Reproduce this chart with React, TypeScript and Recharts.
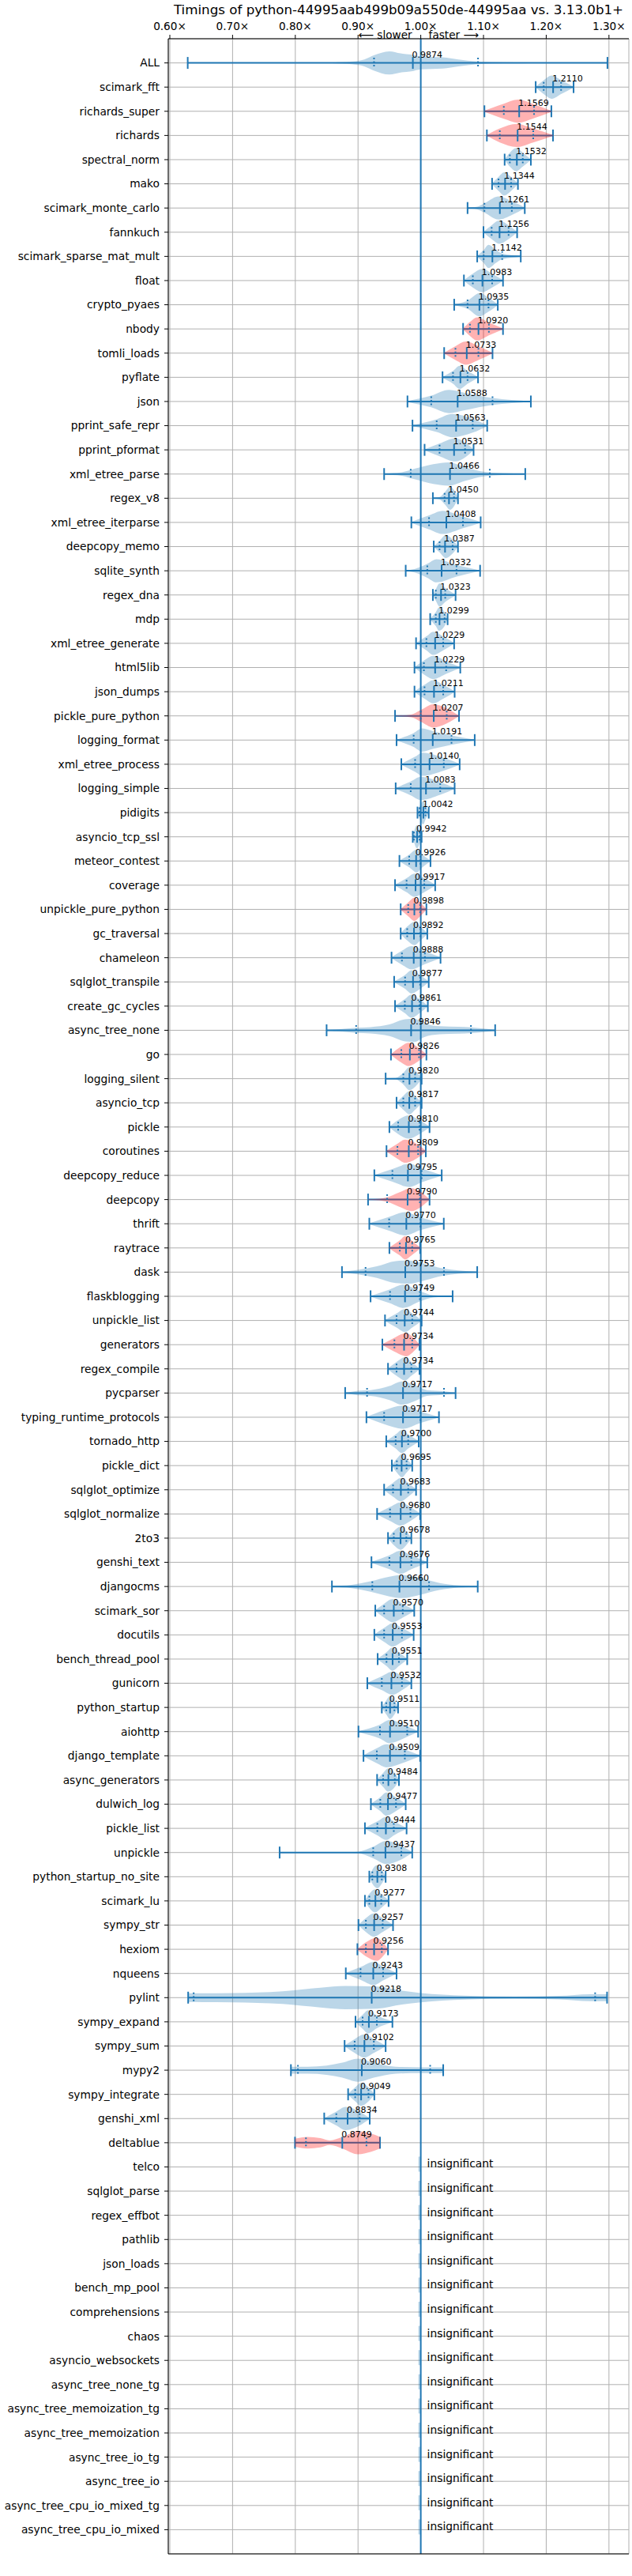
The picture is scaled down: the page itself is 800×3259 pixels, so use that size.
import React from "react";
import {
  ComposedChart,
  Scatter,
  XAxis,
  YAxis,
  CartesianGrid,
  ErrorBar,
  ReferenceLine,
} from "recharts";

const BENCHMARKS = [
  "ALL", "scimark_fft", "richards_super", "richards", "spectral_norm", "mako",
  "scimark_monte_carlo", "fannkuch", "scimark_sparse_mat_mult", "float", "crypto_pyaes",
  "nbody", "tomli_loads", "pyflate", "json", "pprint_safe_repr", "pprint_pformat",
  "xml_etree_parse", "regex_v8", "xml_etree_iterparse", "deepcopy_memo", "sqlite_synth",
  "regex_dna", "mdp", "xml_etree_generate", "html5lib", "json_dumps", "pickle_pure_python",
  "logging_format", "xml_etree_process", "logging_simple", "pidigits", "asyncio_tcp_ssl",
  "meteor_contest", "coverage", "unpickle_pure_python", "gc_traversal", "chameleon",
  "sqlglot_transpile", "create_gc_cycles", "async_tree_none", "go", "logging_silent",
  "asyncio_tcp", "pickle", "coroutines", "deepcopy_reduce", "deepcopy", "thrift", "raytrace",
  "dask", "flaskblogging", "unpickle_list", "generators", "regex_compile", "pycparser",
  "typing_runtime_protocols", "tornado_http", "pickle_dict", "sqlglot_optimize",
  "sqlglot_normalize", "2to3", "genshi_text", "djangocms", "scimark_sor", "docutils",
  "bench_thread_pool", "gunicorn", "python_startup", "aiohttp", "django_template",
  "async_generators", "dulwich_log", "pickle_list", "unpickle", "python_startup_no_site",
  "scimark_lu", "sympy_str", "hexiom", "nqueens", "pylint", "sympy_expand", "sympy_sum",
  "mypy2", "sympy_integrate", "genshi_xml", "deltablue",
  // no significant change
  "telco", "sqlglot_parse", "regex_effbot", "pathlib", "json_loads", "bench_mp_pool",
  "comprehensions", "chaos", "asyncio_websockets", "async_tree_none_tg",
  "async_tree_memoization_tg", "async_tree_memoization", "async_tree_io_tg", "async_tree_io",
  "async_tree_cpu_io_mixed_tg", "async_tree_cpu_io_mixed",
];

// headline ratio per significant benchmark (same order as BENCHMARKS)
const CHANGE = [
  0.9874, 1.2110, 1.1569, 1.1544, 1.1532, 1.1344, 1.1261, 1.1256, 1.1142, 1.0983,
  1.0935, 1.0920, 1.0733, 1.0632, 1.0588, 1.0563, 1.0531, 1.0466, 1.0450, 1.0408,
  1.0387, 1.0332, 1.0323, 1.0299, 1.0229, 1.0229, 1.0211, 1.0207, 1.0191, 1.0140,
  1.0083, 1.0042, 0.9942, 0.9926, 0.9917, 0.9898, 0.9892, 0.9888, 0.9877, 0.9861,
  0.9846, 0.9826, 0.9820, 0.9817, 0.9810, 0.9809, 0.9795, 0.9790, 0.9770, 0.9765,
  0.9753, 0.9749, 0.9744, 0.9734, 0.9734, 0.9717, 0.9717, 0.9700, 0.9695, 0.9683,
  0.9680, 0.9678, 0.9676, 0.9660, 0.9570, 0.9553, 0.9551, 0.9532, 0.9511, 0.9510,
  0.9509, 0.9484, 0.9477, 0.9444, 0.9437, 0.9308, 0.9277, 0.9257, 0.9256, 0.9243,
  0.9218, 0.9173, 0.9102, 0.9060, 0.9049, 0.8834, 0.8749,
];

const SLOWER = [
  "richards_super", "richards", "nbody", "tomli_loads", "pickle_pure_python",
  "unpickle_pure_python", "go", "coroutines", "deepcopy", "raytrace", "generators",
  "hexiom", "deltablue",
];

// [min, q1, q3, max]
const SPREAD = [
  [0.6285, 0.9255, 1.0913, 1.2976], [1.1832, 1.196, 1.2237, 1.2436],
  [1.1015, 1.1324, 1.1806, 1.2082], [1.1054, 1.126, 1.1793, 1.2108],
  [1.1337, 1.142, 1.1626, 1.1755], [1.1137, 1.124, 1.144, 1.1549],
  [1.0746, 1.1015, 1.1452, 1.1658], [1.1, 1.113, 1.14, 1.1536],
  [1.09, 1.1003, 1.1298, 1.1594], [1.0688, 1.083, 1.1138, 1.1311],
  [1.0533, 1.0746, 1.108, 1.1228], [1.0675, 1.0784, 1.1086, 1.1311],
  [1.0373, 1.0553, 1.0919, 1.1144], [1.0347, 1.0514, 1.0746, 1.0913],
  [0.9788, 1.0167, 1.1144, 1.1755], [0.9868, 1.0254, 1.0828, 1.1059],
  [1.0061, 1.03, 1.0706, 1.0842], [0.9416, 0.984, 1.11, 1.1666],
  [1.0193, 1.038, 1.053, 1.0593], [0.985, 1.0132, 1.0673, 1.0955],
  [1.0207, 1.03, 1.0508, 1.0593], [0.976, 1.0104, 1.057, 1.0946],
  [1.0193, 1.024, 1.039, 1.0555], [1.015, 1.024, 1.038, 1.0428],
  [0.9925, 1.009, 1.0358, 1.0532], [0.99, 1.005, 1.0405, 1.063],
  [0.99, 1.006, 1.0358, 1.054], [0.959, 1.0, 1.0414, 1.061],
  [0.9614, 0.9887, 1.049, 1.086], [0.969, 0.991, 1.0367, 1.062],
  [0.96, 0.984, 1.031, 1.054], [0.9948, 0.998, 1.0075, 1.0127],
  [0.9873, 0.989, 0.998, 1.0014], [0.966, 0.9816, 0.9995, 1.0155],
  [0.959, 0.9774, 1.0056, 1.023], [0.968, 0.98, 0.999, 1.009],
  [0.968, 0.9784, 0.9995, 1.0104], [0.9534, 0.97, 1.0066, 1.0315],
  [0.9576, 0.975, 0.999, 1.0127], [0.959, 0.9746, 0.998, 1.0113],
  [0.8499, 0.897, 1.08, 1.1186], [0.9525, 0.969, 0.9972, 1.009],
  [0.944, 0.9722, 0.991, 1.0014], [0.9614, 0.9722, 0.991, 1.0014],
  [0.95, 0.964, 0.998, 1.014], [0.9454, 0.9628, 0.9958, 1.008],
  [0.926, 0.9548, 1.0014, 1.0334], [0.916, 0.9464, 0.9986, 1.014],
  [0.918, 0.9496, 0.9995, 1.0367], [0.95, 0.9666, 0.9864, 0.999],
  [0.8744, 0.912, 1.037, 1.09], [0.92, 0.951, 0.9986, 1.0508],
  [0.943, 0.9614, 0.9864, 1.0014], [0.9388, 0.958, 0.9864, 0.998],
  [0.9478, 0.9614, 0.985, 0.998], [0.8795, 0.9144, 1.037, 1.0555],
  [0.9134, 0.9416, 0.9995, 1.029], [0.945, 0.96, 0.98, 0.9967],
  [0.9539, 0.9619, 0.9774, 0.9864], [0.9416, 0.9558, 0.98, 0.9925],
  [0.9304, 0.951, 0.9835, 0.999], [0.9478, 0.957, 0.977, 0.985],
  [0.9214, 0.95, 0.985, 1.0104], [0.8584, 0.9228, 1.0132, 1.0908],
  [0.9275, 0.9416, 0.9713, 0.9896], [0.926, 0.9416, 0.97, 0.9887],
  [0.9313, 0.9454, 0.9652, 0.9784], [0.9148, 0.9379, 0.97, 0.985],
  [0.9379, 0.945, 0.958, 0.9638], [0.9007, 0.935, 0.9784, 0.9958],
  [0.9087, 0.93, 0.9746, 0.999], [0.9304, 0.94, 0.9586, 0.9652],
  [0.9205, 0.9355, 0.9605, 0.976], [0.911, 0.9308, 0.957, 0.9774],
  [0.775, 0.9242, 0.969, 0.9864], [0.918, 0.9228, 0.9379, 0.944],
  [0.911, 0.918, 0.937, 0.9487], [0.9007, 0.9125, 0.9393, 0.9558],
  [0.899, 0.9125, 0.9379, 0.9478], [0.8805, 0.904, 0.94, 0.9614],
  [0.6292, 0.638, 1.278, 1.297], [0.896, 0.9073, 0.93, 0.9548],
  [0.8786, 0.8946, 0.9252, 0.944], [0.793, 0.8042, 1.015, 1.0358],
  [0.8842, 0.8955, 0.9167, 0.926], [0.8461, 0.8654, 0.9026, 0.9186],
  [0.7995, 0.817, 0.9134, 0.935],
];

// violin outline knots: [ratio, relative half-width]
const VIOLINS: [number, number][][] = [
  [[0.86, 0.03], [0.89, 0.12], [0.91, 0.3], [0.925, 0.65], [0.95, 1], [0.968, 0.82], [0.985, 0.72], [1.0, 0.55], [1.035, 0.48], [1.06, 0.3], [1.09, 0.12], [1.13, 0.05], [1.17, 0.02]],
  [[1.1832, 0.04], [1.196, 0.6], [1.209, 1], [1.2237, 0.6], [1.2436, 0.04]],
  [[1.1015, 0.05], [1.1324, 0.65], [1.155, 1], [1.1806, 0.6], [1.2082, 0.04]],
  [[1.1054, 0.05], [1.126, 0.6], [1.153, 1], [1.1793, 0.6], [1.2108, 0.04]],
  [[1.1337, 0.04], [1.142, 0.6], [1.152, 1], [1.1626, 0.6], [1.1755, 0.04]],
  [[1.1137, 0.04], [1.124, 0.6], [1.133, 1], [1.144, 0.6], [1.1549, 0.04]],
  [[1.0746, 0.03], [1.09, 0.12], [1.1015, 0.4], [1.124, 1], [1.1452, 0.6], [1.1658, 0.04]],
  [[1.1, 0.04], [1.113, 0.6], [1.125, 1], [1.14, 0.6], [1.1536, 0.04]],
  [[1.09, 0.04], [1.1003, 0.55], [1.108, 1], [1.12, 0.55], [1.1298, 0.25], [1.1594, 0.03]],
  [[1.0688, 0.04], [1.083, 0.6], [1.098, 1], [1.1138, 0.6], [1.1311, 0.04]],
  [[1.0533, 0.03], [1.0746, 0.35], [1.094, 1], [1.108, 0.6], [1.1228, 0.04]],
  [[1.0675, 0.04], [1.0784, 0.6], [1.09, 1], [1.1086, 0.55], [1.1311, 0.04]],
  [[1.0373, 0.04], [1.0553, 0.6], [1.072, 1], [1.0919, 0.6], [1.1144, 0.04]],
  [[1.0347, 0.04], [1.0514, 0.55], [1.062, 1], [1.0746, 0.55], [1.0913, 0.04]],
  [[0.9788, 0.03], [1.0167, 0.5], [1.045, 1], [1.07, 0.75], [1.1144, 0.3], [1.1755, 0.02]],
  [[0.9868, 0.03], [1.0254, 0.55], [1.05, 1], [1.0828, 0.6], [1.1059, 0.04]],
  [[1.0061, 0.04], [1.03, 0.55], [1.055, 1], [1.0706, 0.65], [1.0842, 0.04]],
  [[0.9416, 0.03], [0.97, 0.15], [0.99, 0.45], [1.02, 0.85], [1.045, 1], [1.07, 0.6], [1.1, 0.2], [1.13, 0.08], [1.1666, 0.02]],
  [[1.0193, 0.02], [1.03, 0.1], [1.038, 0.5], [1.047, 1], [1.053, 0.7], [1.0593, 0.05]],
  [[0.985, 0.04], [1.0132, 0.6], [1.035, 1], [1.0673, 0.5], [1.0955, 0.04]],
  [[1.0207, 0.03], [1.03, 0.5], [1.04, 1], [1.0508, 0.6], [1.0593, 0.04]],
  [[0.976, 0.03], [0.99, 0.15], [1.0104, 0.6], [1.025, 1], [1.057, 0.5], [1.0946, 0.03]],
  [[1.0193, 0.04], [1.024, 0.5], [1.03, 1], [1.039, 0.6], [1.0555, 0.04]],
  [[1.015, 0.04], [1.024, 0.6], [1.029, 1], [1.038, 0.6], [1.0428, 0.05]],
  [[0.9925, 0.04], [1.009, 0.6], [1.02, 1], [1.0358, 0.6], [1.0532, 0.04]],
  [[0.99, 0.04], [1.005, 0.6], [1.02, 1], [1.0405, 0.55], [1.063, 0.04]],
  [[0.99, 0.04], [1.006, 0.6], [1.02, 1], [1.0358, 0.6], [1.054, 0.04]],
  [[0.959, 0.02], [0.985, 0.12], [1.0, 0.5], [1.02, 1], [1.0414, 0.65], [1.061, 0.03]],
  [[0.9614, 0.03], [0.9887, 0.6], [1.002, 1], [1.02, 0.75], [1.049, 0.4], [1.086, 0.03]],
  [[0.969, 0.04], [0.991, 0.65], [1.003, 1], [1.0367, 0.55], [1.062, 0.04]],
  [[0.96, 0.04], [0.984, 0.6], [1.0, 1], [1.031, 0.55], [1.054, 0.04]],
  [[0.9948, 0.04], [0.998, 0.5], [1.004, 1], [1.0075, 0.6], [1.0127, 0.04]],
  [[0.9873, 0.04], [0.989, 0.4], [0.994, 1], [0.998, 0.6], [1.0014, 0.05]],
  [[0.966, 0.03], [0.9816, 0.55], [0.994, 1], [0.9995, 0.7], [1.0155, 0.04]],
  [[0.959, 0.04], [0.9774, 0.6], [0.99, 1], [1.0056, 0.6], [1.023, 0.04]],
  [[0.968, 0.04], [0.98, 0.6], [0.99, 1], [0.999, 0.6], [1.009, 0.04]],
  [[0.968, 0.04], [0.9784, 0.6], [0.99, 1], [0.9995, 0.6], [1.0104, 0.04]],
  [[0.9534, 0.04], [0.97, 0.6], [0.985, 1], [1.0066, 0.55], [1.0315, 0.04]],
  [[0.9576, 0.04], [0.975, 0.6], [0.985, 1], [0.999, 0.6], [1.0127, 0.04]],
  [[0.959, 0.04], [0.9746, 0.6], [0.985, 1], [0.998, 0.6], [1.0113, 0.04]],
  [[0.8499, 0.03], [0.875, 0.12], [0.897, 0.22], [0.92, 0.27], [0.95, 0.5], [0.975, 0.95], [0.99, 1], [1.005, 0.6], [1.03, 0.35], [1.06, 0.3], [1.08, 0.25], [1.1, 0.15], [1.1186, 0.03]],
  [[0.9525, 0.04], [0.969, 0.7], [0.98, 1], [0.9972, 0.55], [1.009, 0.03]],
  [[0.944, 0.02], [0.96, 0.06], [0.9722, 0.5], [0.982, 1], [0.991, 0.7], [1.0014, 0.04]],
  [[0.9614, 0.04], [0.9722, 0.6], [0.982, 1], [0.991, 0.6], [1.0014, 0.04]],
  [[0.95, 0.04], [0.964, 0.6], [0.98, 1], [0.998, 0.6], [1.014, 0.04]],
  [[0.9454, 0.04], [0.9628, 0.65], [0.975, 1], [0.9958, 0.55], [1.008, 0.04]],
  [[0.926, 0.04], [0.9548, 0.55], [0.982, 1], [1.0014, 0.6], [1.0334, 0.04]],
  [[0.916, 0.02], [0.935, 0.08], [0.9464, 0.2], [0.965, 0.6], [0.985, 1], [0.9986, 0.7], [1.014, 0.03]],
  [[0.918, 0.04], [0.9496, 0.6], [0.975, 1], [0.9995, 0.55], [1.0367, 0.04]],
  [[0.95, 0.04], [0.9666, 0.65], [0.975, 1], [0.9864, 0.6], [0.999, 0.04]],
  [[0.8744, 0.03], [0.9, 0.2], [0.93, 0.5], [0.96, 0.95], [0.98, 1], [1.0, 0.8], [1.037, 0.3], [1.06, 0.15], [1.09, 0.03]],
  [[0.92, 0.03], [0.951, 0.6], [0.972, 1], [0.9986, 0.45], [1.02, 0.1], [1.0508, 0.02]],
  [[0.943, 0.04], [0.9614, 0.6], [0.975, 1], [0.9864, 0.6], [1.0014, 0.04]],
  [[0.9388, 0.04], [0.958, 0.6], [0.977, 1], [0.9864, 0.7], [0.998, 0.04]],
  [[0.9478, 0.04], [0.9614, 0.6], [0.975, 1], [0.985, 0.6], [0.998, 0.04]],
  [[0.8795, 0.03], [0.9, 0.2], [0.92, 0.25], [0.95, 0.6], [0.97, 1], [0.99, 0.7], [1.01, 0.25], [1.037, 0.15], [1.0555, 0.03]],
  [[0.9134, 0.04], [0.9416, 0.6], [0.972, 1], [0.9995, 0.5], [1.029, 0.04]],
  [[0.945, 0.04], [0.96, 0.6], [0.97, 1], [0.98, 0.6], [0.9967, 0.04]],
  [[0.9539, 0.04], [0.9619, 0.6], [0.97, 1], [0.9774, 0.6], [0.9864, 0.04]],
  [[0.9416, 0.04], [0.9558, 0.6], [0.968, 1], [0.98, 0.6], [0.9925, 0.04]],
  [[0.9304, 0.04], [0.951, 0.6], [0.968, 1], [0.9835, 0.6], [0.999, 0.04]],
  [[0.9478, 0.04], [0.957, 0.6], [0.968, 1], [0.977, 0.6], [0.985, 0.04]],
  [[0.9214, 0.04], [0.95, 0.6], [0.968, 1], [0.985, 0.6], [1.0104, 0.04]],
  [[0.8584, 0.03], [0.89, 0.15], [0.92, 0.45], [0.95, 0.85], [0.97, 1], [1.0, 0.7], [1.03, 0.3], [1.06, 0.1], [1.0908, 0.02]],
  [[0.9275, 0.04], [0.9416, 0.6], [0.955, 1], [0.9713, 0.6], [0.9896, 0.04]],
  [[0.926, 0.04], [0.9416, 0.6], [0.955, 1], [0.97, 0.6], [0.9887, 0.04]],
  [[0.9313, 0.04], [0.9454, 0.6], [0.955, 1], [0.9652, 0.6], [0.9784, 0.04]],
  [[0.9148, 0.04], [0.9379, 0.6], [0.955, 1], [0.97, 0.6], [0.985, 0.04]],
  [[0.9379, 0.04], [0.945, 0.6], [0.951, 1], [0.958, 0.6], [0.9638, 0.04]],
  [[0.9007, 0.03], [0.935, 0.6], [0.95, 1], [0.9784, 0.45], [0.9958, 0.04]],
  [[0.9087, 0.04], [0.93, 0.65], [0.945, 1], [0.9746, 0.55], [0.999, 0.04]],
  [[0.9304, 0.04], [0.94, 0.6], [0.948, 1], [0.9586, 0.6], [0.9652, 0.04]],
  [[0.9205, 0.04], [0.9355, 0.6], [0.945, 1], [0.9605, 0.6], [0.976, 0.04]],
  [[0.911, 0.04], [0.9308, 0.6], [0.945, 1], [0.957, 0.6], [0.9774, 0.04]],
  [[0.775, 0.01], [0.88, 0.01], [0.9, 0.06], [0.9242, 0.5], [0.945, 1], [0.969, 0.6], [0.9864, 0.04]],
  [[0.918, 0.04], [0.9228, 0.6], [0.931, 1], [0.9379, 0.6], [0.944, 0.04]],
  [[0.911, 0.04], [0.918, 0.6], [0.927, 1], [0.937, 0.6], [0.9487, 0.04]],
  [[0.9007, 0.04], [0.9125, 0.6], [0.925, 1], [0.9393, 0.6], [0.9558, 0.04]],
  [[0.899, 0.04], [0.9125, 0.6], [0.93, 1], [0.9379, 0.7], [0.9478, 0.04]],
  [[0.8805, 0.04], [0.904, 0.55], [0.925, 1], [0.94, 0.6], [0.9614, 0.04]],
  [[0.6292, 0.38], [0.7, 0.4], [0.78, 0.55], [0.84, 0.85], [0.88, 1], [0.93, 0.95], [0.97, 0.6], [1.0, 0.4], [1.07, 0.17], [1.15, 0.08], [1.22, 0.15], [1.27, 0.3], [1.297, 0.3]],
  [[0.896, 0.04], [0.9073, 0.6], [0.916, 1], [0.93, 0.55], [0.9548, 0.03]],
  [[0.8786, 0.04], [0.8946, 0.6], [0.91, 1], [0.9252, 0.6], [0.944, 0.04]],
  [[0.793, 0.3], [0.82, 0.3], [0.85, 0.4], [0.875, 0.65], [0.9, 1], [0.925, 0.65], [0.96, 0.3], [1.0, 0.25], [1.0358, 0.25]],
  [[0.8842, 0.04], [0.8955, 0.6], [0.905, 1], [0.9167, 0.6], [0.926, 0.04]],
  [[0.8461, 0.04], [0.8654, 0.6], [0.88, 1], [0.9026, 0.6], [0.9186, 0.04]],
  [[0.7995, 0.35], [0.82, 0.5], [0.84, 0.4], [0.855, 0.2], [0.875, 0.5], [0.9, 1], [0.92, 0.8], [0.935, 0.5]],
];

const X_TICKS = [0.6, 0.7, 0.8, 0.9, 1.0, 1.1, 1.2, 1.3];
const X_DOMAIN = [0.5975, 1.3317];
const Y_DOMAIN = [-1, 103];
const BLUE = "#1f77b4";
const RED = "#ff0000";
const HALF = 0.48; // max violin half-height in row units
const FONT = "DejaVu Sans, sans-serif";

type Pt = { x: number; y: number };

function tangents(p: Pt[]): number[] {
  const n = p.length;
  const s: number[] = [];
  for (let i = 0; i < n - 1; i++) {
    const h = p[i + 1].x - p[i].x;
    s.push(h === 0 ? 0 : (p[i + 1].y - p[i].y) / h);
  }
  const m = new Array(n).fill(0);
  m[0] = s[0];
  m[n - 1] = s[n - 2];
  for (let i = 1; i < n - 1; i++) {
    if (s[i - 1] * s[i] <= 0) continue;
    const h0 = p[i].x - p[i - 1].x;
    const h1 = p[i + 1].x - p[i].x;
    const pp = (s[i - 1] * h1 + s[i] * h0) / (h0 + h1);
    m[i] =
      (Math.sign(s[i - 1]) + Math.sign(s[i])) *
      Math.min(Math.abs(s[i - 1]), Math.abs(s[i]), 0.5 * Math.abs(pp));
  }
  return m;
}

// closed smooth outline: upper half left->right, lower half right->left
function violinPath(pts: Pt[]): string {
  const n = pts.length / 2;
  const up = pts.slice(0, n);
  const lo = pts.slice(n);
  const mu = tangents(up);
  const ml = tangents(lo);
  let d = `M${up[0].x},${up[0].y}`;
  for (let i = 0; i < n - 1; i++) {
    const h = (up[i + 1].x - up[i].x) / 3;
    d += `C${up[i].x + h},${up[i].y + mu[i] * h},${up[i + 1].x - h},${up[i + 1].y - mu[i + 1] * h},${up[i + 1].x},${up[i + 1].y}`;
  }
  d += `L${lo[n - 1].x},${lo[n - 1].y}`;
  for (let i = n - 1; i > 0; i--) {
    const h = (lo[i].x - lo[i - 1].x) / 3;
    d += `C${lo[i].x - h},${lo[i].y - ml[i] * h},${lo[i - 1].x + h},${lo[i - 1].y + ml[i - 1] * h},${lo[i - 1].x},${lo[i - 1].y}`;
  }
  return d + "Z";
}

const hidden = () => <g />;

export default function App() {
  const nSig = CHANGE.length;

  const violinData = VIOLINS.map((knots, i) => [
    ...knots.map(([v, w]) => ({ x: v, y: i - w * HALF })),
    ...knots.map(([v, w]) => ({ x: v, y: i + w * HALF })),
  ]);

  const centers = CHANGE.map((c, i) => ({
    x: c,
    y: i,
    err: [c - SPREAD[i][0], SPREAD[i][3] - c],
    label: c.toFixed(4),
  }));

  const quartiles = SPREAD.flatMap((s, i) => [
    { x: s[1], y: i },
    { x: s[2], y: i },
  ]);

  const insignificant = BENCHMARKS.slice(nSig).map((_, k) => ({ x: 1.0, y: nSig + k }));

  return (
    <div style={{ position: "relative", width: 800, height: 3259, fontFamily: FONT, background: "#fff" }}>
      <style>{"body{margin:0}"}</style>
      <div
        style={{
          position: "absolute",
          top: 2,
          left: 213,
          width: 583,
          textAlign: "center",
          fontSize: 16.7,
          lineHeight: "20px",
          whiteSpace: "nowrap",
        }}
      >
        Timings of python-44995aab499b09a550de-44995aa vs. 3.13.0b1+
      </div>
      <ComposedChart
        width={800}
        height={3259}
        margin={{ top: 19, right: 4, bottom: 0, left: 0 }}
        style={{ fontFamily: FONT }}
      >
        <CartesianGrid xAxisId="top" yAxisId={0} stroke="#b0b0b0" strokeWidth={1} />
        <XAxis
          xAxisId="top"
          orientation="top"
          type="number"
          dataKey="x"
          domain={X_DOMAIN}
          ticks={X_TICKS}
          tickFormatter={(v: number) => `${v.toFixed(2)}×`}
          height={30}
          tickSize={5}
          tickMargin={6}
          axisLine={{ stroke: "#000" }}
          tickLine={{ stroke: "#000" }}
          tick={{ fill: "#000", fontSize: 13.6 }}
        />
        <XAxis
          xAxisId="bottom"
          orientation="bottom"
          type="number"
          dataKey="x"
          domain={X_DOMAIN}
          ticks={X_TICKS}
          tickFormatter={(v: number) => `${v.toFixed(2)}×`}
          height={28}
          tickSize={5}
          tickMargin={7}
          axisLine={{ stroke: "#000" }}
          tickLine={{ stroke: "#000" }}
          tick={{ fill: "#000", fontSize: 13.6 }}
        />
        <YAxis
          type="number"
          dataKey="y"
          domain={Y_DOMAIN}
          reversed
          ticks={BENCHMARKS.map((_, i) => i)}
          interval={0}
          tickFormatter={(i: number) => BENCHMARKS[i] ?? ""}
          width={213}
          tickSize={5}
          tickMargin={6}
          axisLine={{ stroke: "#000" }}
          tickLine={{ stroke: "#000" }}
          tick={{ fill: "#000", fontSize: 13.8 }}
        />
        <YAxis
          yAxisId="right"
          orientation="right"
          type="number"
          dataKey="y"
          domain={Y_DOMAIN}
          reversed
          width={0}
          tick={false}
          tickLine={false}
          axisLine={{ stroke: "#000" }}
        />

        {violinData.map((pts, i) => {
          const color = SLOWER.includes(BENCHMARKS[i]) ? RED : BLUE;
          return (
            <Scatter
              key={`violin-${BENCHMARKS[i]}`}
              xAxisId="top"
              data={pts}
              shape={hidden}
              legendType="none"
              isAnimationActive={false}
              line={(p: any) => (
                <path d={violinPath(p.points)} fill={color} fillOpacity={0.3} stroke="none" />
              )}
            />
          );
        })}

        <Scatter
          xAxisId="top"
          data={quartiles}
          isAnimationActive={false}
          legendType="none"
          shape={(p: any) => (
            <line
              x1={p.cx}
              x2={p.cx}
              y1={p.cy - 6.5}
              y2={p.cy + 6.5}
              stroke={BLUE}
              strokeWidth={2}
              strokeDasharray="2 2.5"
            />
          )}
        />

        <Scatter
          xAxisId="top"
          data={centers}
          isAnimationActive={false}
          legendType="none"
          shape={(p: any) => (
            <line x1={p.cx} x2={p.cx} y1={p.cy - 7.5} y2={p.cy + 7.5} stroke={BLUE} strokeWidth={2} />
          )}
        >
          <ErrorBar dataKey="err" direction="x" width={7.5} stroke={BLUE} strokeWidth={2} />
        </Scatter>

        <Scatter
          xAxisId="top"
          data={insignificant}
          isAnimationActive={false}
          legendType="none"
          shape={(p: any) => (
            <g>
              <rect x={p.cx - 3} y={p.cy - 13} width={3} height={19} fill={BLUE} fillOpacity={0.3} />
              <text x={p.cx + 8} y={p.cy + 1} fontSize={13.8} fill="#000" fontFamily={FONT}>
                insignificant
              </text>
            </g>
          )}
        />

        <ReferenceLine xAxisId="top" x={1} stroke={BLUE} strokeWidth={2} />

        <Scatter
          xAxisId="top"
          data={centers}
          isAnimationActive={false}
          legendType="none"
          shape={(p: any) => (
            <text x={p.cx - 1} y={p.cy - 7} fontSize={11} fill="#000" fontFamily={FONT}>
              {p.payload.label}
            </text>
          )}
        />

        <Scatter
          xAxisId="top"
          data={[{ x: 1.0, y: Y_DOMAIN[0] }]}
          isAnimationActive={false}
          legendType="none"
          shape={(p: any) => (
            <g fontSize={13.6} fill="#000" fontFamily={FONT}>
              <text x={p.cx - 11} y={p.cy} textAnchor="end">
                ⟵ slower
              </text>
              <text x={p.cx + 10} y={p.cy} textAnchor="start">
                faster ⟶
              </text>
            </g>
          )}
        />
      </ComposedChart>
    </div>
  );
}
